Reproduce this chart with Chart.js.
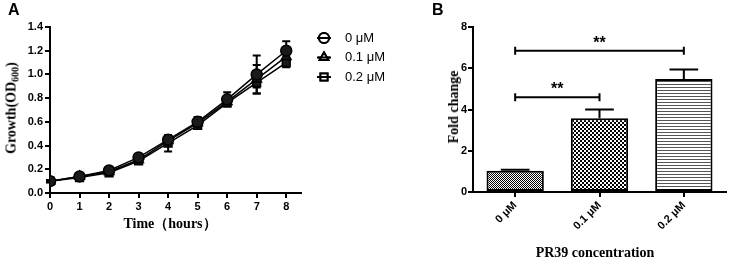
<!DOCTYPE html>
<html>
<head>
<meta charset="utf-8">
<script src="https://cdn.jsdelivr.net/npm/chart.js@4.4.1/dist/chart.umd.min.js"></script>
<style>
  body { margin: 0; background: #fff; }
  #wrap { position: relative; width: 732px; height: 266px; overflow: hidden; }
  canvas { position: absolute; top: 0; }
  .lbl { position: absolute; font: bold 16px 'Liberation Sans', Arial, sans-serif; color: #000; }
  .ttl { position: absolute; font: bold 14px 'Liberation Serif', 'Times New Roman', serif; color: #000;
         white-space: nowrap; transform: translate(-50%, -50%); }
  .rot { transform: translate(-50%, -50%) rotate(-90deg); }
  sub { font-size: 10px; vertical-align: -3px; }
</style>
</head>
<body>
<div id="wrap">
  <canvas id="chartA" width="420" height="266" style="left:0"></canvas>
  <canvas id="chartB" width="312" height="266" style="left:420px"></canvas>
  <div class="lbl" style="left:8px; top:1px">A</div>
  <div class="lbl" style="left:432px; top:1px">B</div>
  <div class="ttl rot" style="left:12px; top:108px">Growth(OD<sub>600</sub>)</div>
  <div class="ttl" style="left:170px; top:224px">Time（hours）</div>
  <div class="ttl rot" style="left:454px; top:107px">Fold change</div>
  <div class="ttl" style="left:595px; top:253px">PR39 concentration</div>
</div>
<script>
// panel A: growth curves
const hours = [0, 1, 2, 3, 4, 5, 6, 7, 8];
const doseLabels = ['0 μM', '0.1 μM', '0.2 μM'];
const od0 = [0.10, 0.14, 0.19, 0.30, 0.45, 0.60, 0.79, 1.00, 1.20];
const od01 = [0.10, 0.14, 0.18, 0.28, 0.44, 0.59, 0.77, 0.96, 1.15];
const od02 = [0.10, 0.13, 0.17, 0.27, 0.42, 0.57, 0.76, 0.93, 1.10];
const err0 = [0.01, 0.01, 0.01, 0.02, 0.03, 0.04, 0.06, 0.16, 0.08];
const err01 = [0.01, 0.01, 0.01, 0.01, 0.02, 0.02, 0.02, 0.12, 0.04];
const err02 = [0.01, 0.01, 0.01, 0.01, 0.07, 0.02, 0.02, 0.04, 0.04];
const markerStyles = ['circle', 'triangle', 'rect'];

// panel B: fold change
const concLabels = ['0 μM', '0.1 μM', '0.2 μM'];
const foldChange = [1.03, 3.58, 5.48];
const foldErr = [0.05, 0.42, 0.46];
const brackets = [[0, 1, 4.6, '**'], [0, 2, 6.85, '**']];

const tickFont = { family: "'Liberation Sans', Arial, sans-serif", size: 11, weight: 'bold' };

function axis(extra) {
  return Object.assign({
    grid: { drawOnChartArea: false, drawTicks: true, tickLength: 5, color: '#000', lineWidth: 2 },
    border: { display: true, color: '#000', width: 2 },
    ticks: { color: '#000', font: tickFont, padding: 2 }
  }, extra);
}

const seriesA = [od0, od01, od02];
const errsA = [err0, err01, err02];

const errorBarsA = {
  id: 'errorBarsA',
  beforeDatasetsDraw(chart) {
    const ctx = chart.ctx, ys = chart.scales.y;
    ctx.save();
    ctx.strokeStyle = '#000';
    ctx.lineWidth = 2;
    chart.data.datasets.forEach((ds, i) => {
      const meta = chart.getDatasetMeta(i);
      meta.data.forEach((pt, j) => {
        const v = seriesA[i][j], e = errsA[i][j];
        const top = ys.getPixelForValue(v + e), bot = ys.getPixelForValue(v - e);
        ctx.beginPath();
        ctx.moveTo(pt.x, top); ctx.lineTo(pt.x, bot);
        ctx.moveTo(pt.x - 4, top); ctx.lineTo(pt.x + 4, top);
        ctx.moveTo(pt.x - 4, bot); ctx.lineTo(pt.x + 4, bot);
        ctx.stroke();
      });
    });
    ctx.restore();
  }
};

const legendA = {
  id: 'legendA',
  afterDraw(chart) {
    const ctx = chart.ctx;
    ctx.save();
    doseLabels.forEach((name, i) => {
      const y = 38 + i * 19.5;
      ctx.strokeStyle = '#000';
      ctx.lineWidth = 2;
      ctx.beginPath();
      ctx.moveTo(317, y); ctx.lineTo(331, y);
      ctx.stroke();
      ctx.fillStyle = '#fff';
      Chart.helpers.drawPoint(ctx, { pointStyle: markerStyles[i], radius: 5, borderWidth: 2 }, 324, y);
      ctx.fill();
      ctx.stroke();
      ctx.beginPath();
      ctx.moveTo(318, y); ctx.lineTo(330, y);
      ctx.stroke();
      ctx.fillStyle = '#000';
      ctx.font = "13px 'Liberation Sans', Arial, sans-serif";
      ctx.textBaseline = 'middle';
      ctx.fillText(name, 345, y);
    });
    ctx.restore();
  }
};

new Chart(document.getElementById('chartA'), {
  type: 'line',
  data: {
    datasets: seriesA.map((vals, i) => ({
      label: doseLabels[i],
      data: hours.map((h, j) => ({ x: h, y: vals[j] })),
      borderColor: '#000',
      borderWidth: 1.5,
      pointStyle: markerStyles[i],
      pointRadius: 5.5,
      pointBorderWidth: 1.5,
      pointBorderColor: '#000',
      pointBackgroundColor: '#1a1a1a',
      tension: 0
    }))
  },
  options: {
    responsive: false,
    animation: false,
    devicePixelRatio: 1,
    layout: { padding: { top: 27, right: 119, left: 0, bottom: 0 } },
    plugins: { legend: { display: false }, tooltip: { enabled: false } },
    scales: {
      x: axis({
        type: 'linear', min: 0, max: 8.5,
        ticks: { color: '#000', font: tickFont, padding: 2, stepSize: 1, includeBounds: false,
                 callback: v => Number.isInteger(v) ? v : '' },
        afterFit(s) { s.height = 73; }
      }),
      y: axis({
        min: 0, max: 1.4,
        ticks: { color: '#000', font: tickFont, padding: 2, stepSize: 0.2, callback: v => v.toFixed(1) },
        afterFit(s) { s.width = 50; }
      })
    }
  },
  plugins: [errorBarsA, legendA]
});

// canvas patterns for the bars
function makePattern(size, draw) {
  const c = document.createElement('canvas');
  c.width = size[0]; c.height = size[1];
  const g = c.getContext('2d');
  g.fillStyle = '#fff';
  g.fillRect(0, 0, c.width, c.height);
  g.fillStyle = '#000';
  draw(g);
  return c.getContext('2d').createPattern(c, 'repeat');
}
const fineChecker = makePattern([2, 2], g => { g.fillRect(0, 0, 1, 1); g.fillRect(1, 1, 1, 1); });
const coarseChecker = makePattern([4, 4], g => { g.fillRect(0, 0, 2, 2); g.fillRect(2, 2, 2, 2); });
const hLines = makePattern([4, 3], g => { g.fillStyle = '#555'; g.fillRect(0, 0, 4, 1); });

const barExtras = {
  id: 'barExtras',
  afterDatasetsDraw(chart) {
    const ctx = chart.ctx, xs = chart.scales.x, ys = chart.scales.y;
    const meta = chart.getDatasetMeta(0);
    ctx.save();
    ctx.strokeStyle = '#000';
    ctx.lineWidth = 2;
    meta.data.forEach((bar, i) => {
      const top = ys.getPixelForValue(foldChange[i] + foldErr[i]);
      const cap = bar.width / 4;
      ctx.beginPath();
      ctx.moveTo(bar.x, bar.y); ctx.lineTo(bar.x, top);
      ctx.moveTo(bar.x - cap, top); ctx.lineTo(bar.x + cap, top);
      ctx.stroke();
    });
    brackets.forEach(([a, b, lvl, mark]) => {
      const x1 = xs.getPixelForValue(a), x2 = xs.getPixelForValue(b), y = ys.getPixelForValue(lvl);
      ctx.beginPath();
      ctx.moveTo(x1, y); ctx.lineTo(x2, y);
      ctx.moveTo(x1, y - 4); ctx.lineTo(x1, y + 4);
      ctx.moveTo(x2, y - 4); ctx.lineTo(x2, y + 4);
      ctx.stroke();
      ctx.fillStyle = '#000';
      ctx.font = "bold 16px 'Liberation Sans', Arial, sans-serif";
      ctx.textAlign = 'center';
      ctx.textBaseline = 'alphabetic';
      ctx.fillText(mark, (x1 + x2) / 2, y - 3);
    });
    ctx.restore();
  }
};

new Chart(document.getElementById('chartB'), {
  type: 'bar',
  data: {
    labels: concLabels,
    datasets: [{
      data: foldChange,
      backgroundColor: [fineChecker, coarseChecker, hLines],
      borderColor: '#000',
      borderWidth: 2,
      borderSkipped: false,
      barPercentage: 0.68,
      categoryPercentage: 1
    }]
  },
  options: {
    responsive: false,
    animation: false,
    devicePixelRatio: 1,
    layout: { padding: { top: 27, right: 6, left: 0, bottom: 0 } },
    plugins: { legend: { display: false }, tooltip: { enabled: false } },
    scales: {
      x: axis({
        grid: { drawOnChartArea: false, drawTicks: true, tickLength: 5, color: '#000', lineWidth: 2, offset: false },
        ticks: { color: '#000', font: tickFont, padding: 2, minRotation: 45, maxRotation: 45 },
        afterFit(s) { s.height = 74; }
      }),
      y: axis({
        min: 0, max: 8,
        ticks: { color: '#000', font: tickFont, padding: 1, stepSize: 2 },
        afterFit(s) { s.width = 53; }
      })
    }
  },
  plugins: [barExtras]
});
</script>
</body>
</html>
